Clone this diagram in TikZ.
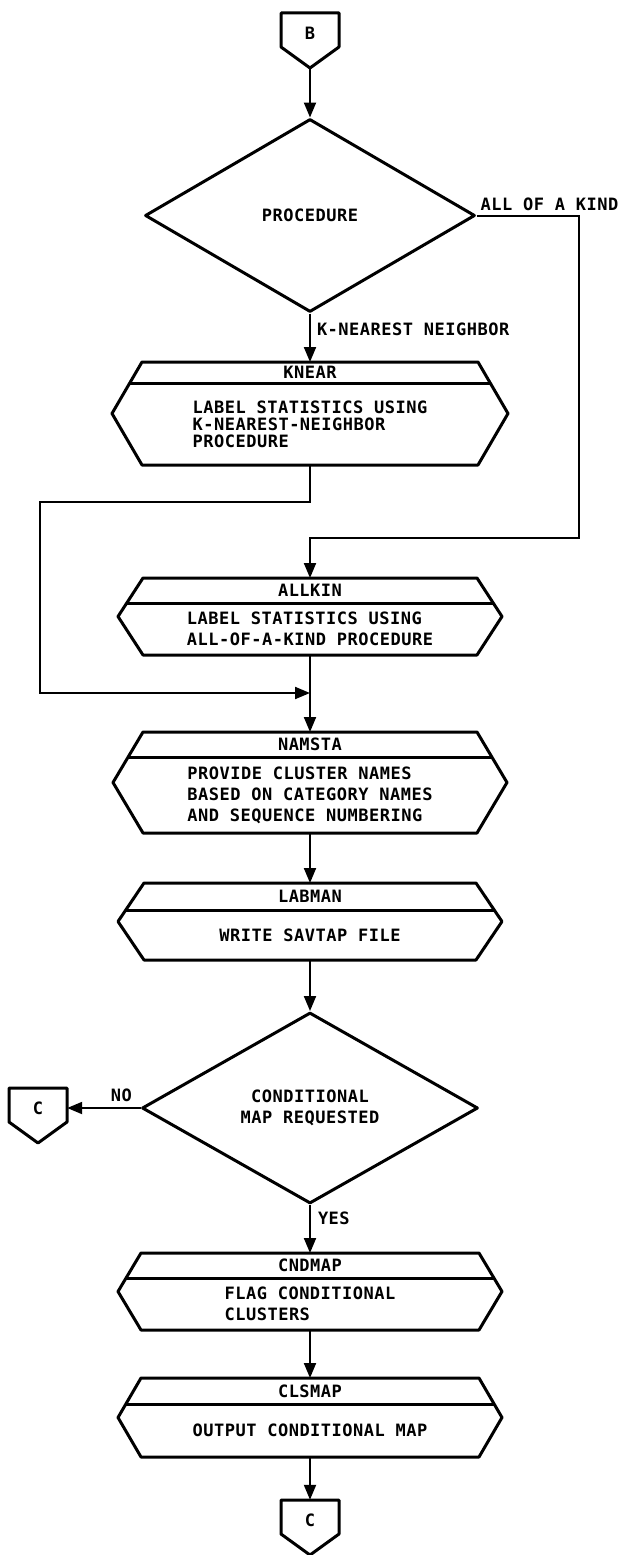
\documentclass[tikz,border=0pt]{standalone}
\usepackage{fontspec}
\newfontfamily\lfont[LetterSpace=3]{DejaVu Sans Mono}
\usetikzlibrary{arrows.meta,shapes.geometric,calc}

\newcommand\subbox[9]{%
  \node[frame, minimum width={2*#4}, minimum height={2*#5}] (#1) at (#2,#3) {};
  \draw[shp] ({#2-#4+#6},{#3-#5}) -- ({#2+#4-#6},{#3-#5}) -- ({#2+#4},{#3}) -- ({#2+#4-#6},{#3+#5}) -- ({#2-#4+#6},{#3+#5}) -- ({#2-#4},{#3}) -- cycle;
  \draw[shp] ({#2-#4+#6-#6*#7/#5},{#3-#5+#7}) -- ({#2+#4-#6+#6*#7/#5},{#3-#5+#7});
  \node[txt] (#1-h) at (#2,{#3-#5+#7/2}) {#8};
  \node[body] (#1-b) at (#2,{#3+#7/2}) {#9};
}
\newcommand\offpage[4]{%
  \draw[shp] ({#2-29},{#3}) -- ({#2+29},{#3}) -- ({#2+29},{#3+34}) -- ({#2},{#3+55}) -- ({#2-29},{#3+34}) -- cycle;
  \node[txt, minimum width=58pt, minimum height=40pt] (#1) at (#2,{#3+20}) {#4};
  \coordinate (#1-tip) at (#2,{#3+55});
}

\begin{document}
\begin{tikzpicture}[x=1pt,y=-1pt,
  shp/.style={line width=3pt, line join=round},
  conn/.style={line width=2pt},
  arr/.style={conn,-{Triangle[length=15pt,width=12pt]}},
  txt/.style={font=\lfont\bfseries\fontsize{17pt}{21pt}\selectfont, inner sep=0pt},
  body/.style={txt, align=left},
  dec/.style={diamond, draw, shp, inner sep=0pt, txt, align=center},
  frame/.style={draw=none, inner sep=0pt, outer sep=0pt},
  lbl/.style={txt},
]
\useasboundingbox (0,0) rectangle (628,1555);

% off-page connectors
\offpage{B}{310}{13}{B}
\offpage{Cl}{38}{1088}{C}
\offpage{Cb}{310}{1500}{C}

% decisions
\node[dec, minimum width=330pt, minimum height=193pt] (proc) at (310,215.5) {PROCEDURE};
\node[dec, minimum width=336pt, minimum height=191pt] (cond) at (310,1108) {CONDITIONAL\\MAP REQUESTED};

% subroutine boxes
\subbox{knear}{310}{413.5}{198}{51.5}{30}{21}{KNEAR}{LABEL STATISTICS USING\\[-4pt]K-NEAREST-NEIGHBOR\\[-4pt]PROCEDURE}
\subbox{allkin}{310}{616.5}{192}{38.5}{25}{25}{ALLKIN}{LABEL STATISTICS USING\\ALL-OF-A-KIND PROCEDURE}
\subbox{namsta}{310}{782.5}{197}{50.5}{30}{25}{NAMSTA}{PROVIDE CLUSTER NAMES\\BASED ON CATEGORY NAMES\\AND SEQUENCE NUMBERING}
\subbox{labman}{310}{921.5}{192}{38.5}{26}{27}{LABMAN}{WRITE SAVTAP FILE}
\subbox{cndmap}{310}{1291.5}{192}{38.5}{23}{25}{CNDMAP}{FLAG CONDITIONAL\\CLUSTERS}
\subbox{clsmap}{310}{1417.5}{192}{39.5}{23}{26}{CLSMAP}{OUTPUT CONDITIONAL MAP}

\coordinate (j) at (310,693);

% connectors
\draw[arr] (B-tip) -- (proc.north);
\draw[arr] (proc.south) -- (knear.north)
  node[lbl, pos=0.32, anchor=west, xshift=6pt] (lk) {K-NEAREST NEIGHBOR};
\draw[arr] (proc.east) -- ++(102,0) -- ++(0,322.5) -| (allkin.north);
\node[lbl, anchor=south west, xshift=4pt, yshift=5pt] (la) at (proc.east) {ALL OF A KIND};
\draw[arr] (knear.south) -- ++(0,37) -- ++(-270,0) |- (j);
\draw[arr] (allkin.south) -- (namsta.north);
\draw[arr] (namsta.south) -- (labman.north);
\draw[arr] (labman.south) -- (cond.north);
\draw[arr] (cond.west) -- (Cl.east)
  node[lbl, pos=0.26, anchor=south, yshift=5pt] (ln) {NO};
\draw[arr] (cond.south) -- (cndmap.north)
  node[lbl, pos=0.28, anchor=west, xshift=7pt] (ly) {YES};
\draw[arr] (cndmap.south) -- (clsmap.north);
\draw[arr] (clsmap.south) -- (Cb.north);
\end{tikzpicture}
\end{document}
